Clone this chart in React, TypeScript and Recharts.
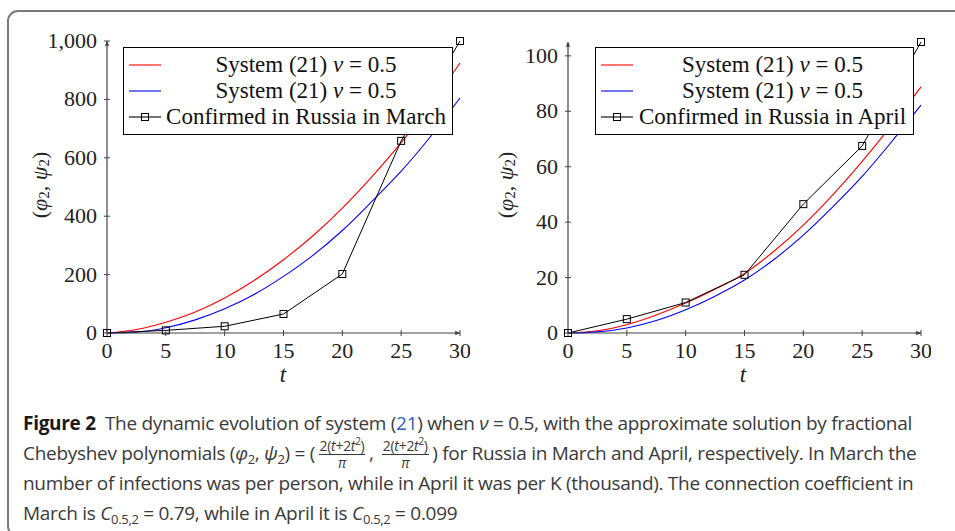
import { Legend, Line, LineChart, XAxis, YAxis } from "recharts";

// smooth solution curves, sampled every 2.5 days
const tSmooth = [0, 2.5, 5, 7.5, 10, 12.5, 15, 17.5, 20, 22.5, 25, 27.5, 30];
const marchRed = [0, 12, 37, 72, 120, 180, 251, 333, 428, 535, 652, 783, 925];
const marchBlue = [0, 3, 18, 45, 83, 132, 194, 266, 351, 450, 554, 673, 805];
const aprilRed = [0, 0.8, 3, 6.5, 10.8, 15.8, 21.5, 29.5, 38.9, 49.8, 61.9, 75, 88.8];
const aprilBlue = [0, 0.4, 1.8, 4.5, 8.4, 13.3, 19.1, 26.5, 35.3, 45.5, 56.5, 69, 82.2];

// confirmed cases
const tDays = [0, 5, 10, 15, 20, 25, 30];
const marchConfirmed = [0, 9, 23, 65, 202, 658, 1000];
const aprilConfirmed = [0, 5, 11, 21, 46.5, 67.5, 105];

const tTicks = [0, 5, 10, 15, 20, 25, 30];
const marchTicks = [0, 200, 400, 600, 800, 1000];
const aprilTicks = [0, 20, 40, 60, 80, 100];

const SERIF = "'Liberation Serif', 'DejaVu Serif', serif";
const AXIS = "#444";

const zip = (xs: number[], ys: number[]) => xs.map((t, i) => ({ t, v: ys[i] }));

const Y_MARGIN = 10;

function YTick(props: any) {
  const { x, y, payload } = props;
  const ax = x + Y_MARGIN;
  const label = payload.value >= 1000 ? payload.value.toLocaleString("en-US") : String(payload.value);
  return (
    <g>
      <line x1={ax - 3} x2={ax + 3} y1={y} y2={y} stroke={AXIS} strokeWidth={1} />
      <text x={x} y={y + 7} textAnchor="end" fontFamily={SERIF} fontSize={22} fill="#222">
        {label}
      </text>
    </g>
  );
}

function XTick(props: any) {
  const { x, y, payload } = props;
  return (
    <g>
      <line x1={x} x2={x} y1={y - 3} y2={y + 3} stroke={AXIS} strokeWidth={1} />
      <text x={x} y={y + 25} textAnchor="middle" fontFamily={SERIF} fontSize={22} fill="#222">
        {payload.value}
      </text>
    </g>
  );
}

function SquareDot(props: any) {
  const { cx, cy, index } = props;
  if (cx == null || cy == null) return <g key={index} />;
  return <rect key={index} x={cx - 3.5} y={cy - 3.5} width={7} height={7} fill="none" stroke="#000" strokeWidth={1} />;
}

function LegendBox({ month, width }: { month: string; width: number }) {
  const rows = [
    { color: "#ff0000", mark: false, label: "sys" },
    { color: "#0000ff", mark: false, label: "sys" },
    { color: "#000", mark: true, label: `Confirmed in Russia in ${month}` },
  ];
  return (
    <div
      style={{
        width,
        boxSizing: "border-box",
        border: "1px solid #000",
        background: "#fff",
        padding: "4px 0",
        fontFamily: SERIF,
        fontSize: 23,
        color: "#111",
      }}
    >
      {rows.map((r, i) => (
        <div key={i} style={{ display: "flex", alignItems: "center", height: 26 }}>
          <svg width={40} height={26} style={{ flex: "none" }}>
            <line x1={5} x2={37} y1={13} y2={13} stroke={r.color} strokeWidth={1.1} />
            {r.mark && <rect x={17.5} y={9.5} width={7} height={7} fill="none" stroke="#000" />}
          </svg>
          <div style={{ flex: 1, textAlign: "center", whiteSpace: "nowrap", paddingRight: 4 }}>
            {r.label === "sys" ? (
              <>
                System (21) <i>ν</i> = 0.5
              </>
            ) : (
              r.label
            )}
          </div>
        </div>
      ))}
    </div>
  );
}

function Panel({
  left,
  red,
  blue,
  confirmed,
  yMax,
  yTicks,
  month,
  legendLeft,
  legendWidth,
}: {
  left: number;
  red: number[];
  blue: number[];
  confirmed: number[];
  yMax: number;
  yTicks: number[];
  month: string;
  legendLeft: number;
  legendWidth: number;
}) {
  const top = yMax === 1000 ? 41 : 42;
  const labelX = left > 0 ? 44 : 39;
  const tX = left > 0 ? 743 - left : 283;
  return (
    <div style={{ position: "absolute", left, top: 0 }}>
      <LineChart width={470} height={400} margin={{ top, right: 10, bottom: 0, left: 0 }}>
        <XAxis
          type="number"
          dataKey="t"
          domain={[0, 30]}
          ticks={tTicks}
          height={67}
          tickSize={0}
          tickMargin={0}
          tickLine={false}
          tick={<XTick />}
          axisLine={{ stroke: AXIS, strokeWidth: 1.2, markerEnd: "url(#axisArrow)" }}
          label={{
            content: () => (
              <text x={tX} y={382} textAnchor="middle" fontFamily={SERIF} fontSize={23} fontStyle="italic" fill="#222">
                t
              </text>
            ),
          }}
        />
        <YAxis
          type="number"
          domain={[0, yMax]}
          ticks={yTicks}
          width={107}
          tickSize={0}
          tickMargin={Y_MARGIN}
          tickLine={false}
          tick={<YTick />}
          axisLine={{ stroke: AXIS, strokeWidth: 1.2, markerStart: "url(#axisArrow)" }}
          label={{
            content: () => (
              <text
                x={labelX}
                y={185}
                transform={`rotate(-90 ${labelX} 185)`}
                textAnchor="middle"
                dominantBaseline="central"
                fontFamily={SERIF}
                fontSize={22}
                fill="#222"
              >
                (<tspan fontStyle="italic">φ</tspan>
                <tspan fontSize={15} dy={5}>2</tspan>
                <tspan dy={-5}>, </tspan>
                <tspan fontStyle="italic">ψ</tspan>
                <tspan fontSize={15} dy={5}>2</tspan>
                <tspan dy={-5}>)</tspan>
              </text>
            ),
          }}
        />
        <Line
          data={zip(tSmooth, red)}
          dataKey="v"
          type="monotone"
          stroke="#ff0000"
          strokeWidth={1.1}
          dot={false}
          isAnimationActive={false}
        />
        <Line
          data={zip(tSmooth, blue)}
          dataKey="v"
          type="monotone"
          stroke="#0000ff"
          strokeWidth={1.1}
          dot={false}
          isAnimationActive={false}
        />
        <Line
          data={zip(tDays, confirmed)}
          dataKey="v"
          type="linear"
          stroke="#000"
          strokeWidth={1}
          dot={<SquareDot />}
          isAnimationActive={false}
        />
        <Legend
          layout="horizontal"
          align="center"
          verticalAlign="middle"
          wrapperStyle={{ left: legendLeft, top: 47, width: legendWidth, height: 86 }}
          content={() => <LegendBox month={month} width={legendWidth} />}
        />
      </LineChart>
    </div>
  );
}

const subStyle = { fontSize: 13, verticalAlign: -4, lineHeight: 0 };
const lineStyle = { height: 30, whiteSpace: "nowrap" as const };

export default function App() {
  return (
    <div
      style={{
        position: "absolute",
        left: 0,
        top: 0,
        width: 955,
        height: 531,
        overflow: "hidden",
        background: "#fff",
      }}
    >
      <svg width={0} height={0} style={{ position: "absolute" }}>
        <defs>
          <marker
            id="axisArrow"
            viewBox="0 0 10 10"
            refX={9.5}
            refY={5}
            markerWidth={6}
            markerHeight={6}
            markerUnits="userSpaceOnUse"
            orient="auto-start-reverse"
          >
            <path d="M0,0.8 Q4,4 0,5 Q4,6 0,9.2 L10,5 z" fill={AXIS} />
          </marker>
        </defs>
      </svg>
      <div
        style={{
          position: "absolute",
          left: 7,
          top: 10,
          width: 1100,
          height: 523,
          border: "2px solid #7a7a7a",
          borderRadius: 11,
        }}
      />
      <Panel
        left={0}
        red={marchRed}
        blue={marchBlue}
        confirmed={marchConfirmed}
        yMax={1000}
        yTicks={marchTicks}
        month="March"
        legendLeft={123}
        legendWidth={330}
      />
      <Panel
        left={461}
        red={aprilRed}
        blue={aprilBlue}
        confirmed={aprilConfirmed}
        yMax={105}
        yTicks={aprilTicks}
        month="April"
        legendLeft={595 - 461}
        legendWidth={319}
      />
      <div
        style={{
          position: "absolute",
          left: 23,
          top: 408,
          fontFamily: "'Open Sans', 'Noto Sans', sans-serif",
          fontSize: 19,
          lineHeight: "30px",
          color: "#3a3a3a",
          letterSpacing: -0.3,
        }}
      >
        <div style={lineStyle}>
          <b style={{ color: "#1a1a1a" }}>Figure 2</b>
          {"\u2002"}The dynamic evolution of system (<span style={{ color: "#2b5cc8" }}>21</span>) when{" "}
          <i>ν</i> = 0.5, with the approximate solution by fractional
        </div>
        <div style={lineStyle}>
          Chebyshev polynomials (<i>φ</i>
          <sub style={subStyle}>2</sub>, <i>ψ</i>
          <sub style={subStyle}>2</sub>) = (
          <Frac />, <Frac />) for Russia in March and April, respectively. In March the
        </div>
        <div style={lineStyle}>
          number of infections was per person, while in April it was per K (thousand). The connection coefficient in
        </div>
        <div style={lineStyle}>
          March is <i>C</i>
          <sub style={subStyle}>0.5,2</sub> = 0.79, while in April it is <i>C</i>
          <sub style={subStyle}>0.5,2</sub> = 0.099
        </div>
      </div>
    </div>
  );
}

function Frac() {
  return (
    <span
      style={{
        display: "inline-block",
        position: "relative",
        width: 52,
        height: 10,
        margin: "0 1px",
      }}
    >
      <span
        style={{
          position: "absolute",
          left: 0,
          right: 0,
          top: -11,
          display: "flex",
          flexDirection: "column",
          alignItems: "center",
          fontSize: 14,
          lineHeight: "14px",
          letterSpacing: -0.3,
        }}
      >
        <span style={{ borderBottom: "1.3px solid #3a3a3a", padding: "0 1px 1px", whiteSpace: "nowrap" }}>
          2(<i>t</i>+2<i>t</i>
          <sup style={{ fontSize: 10, lineHeight: 0 }}>2</sup>)
        </span>
        <span style={{ marginTop: 1 }}>
          <i>π</i>
        </span>
      </span>
    </span>
  );
}
